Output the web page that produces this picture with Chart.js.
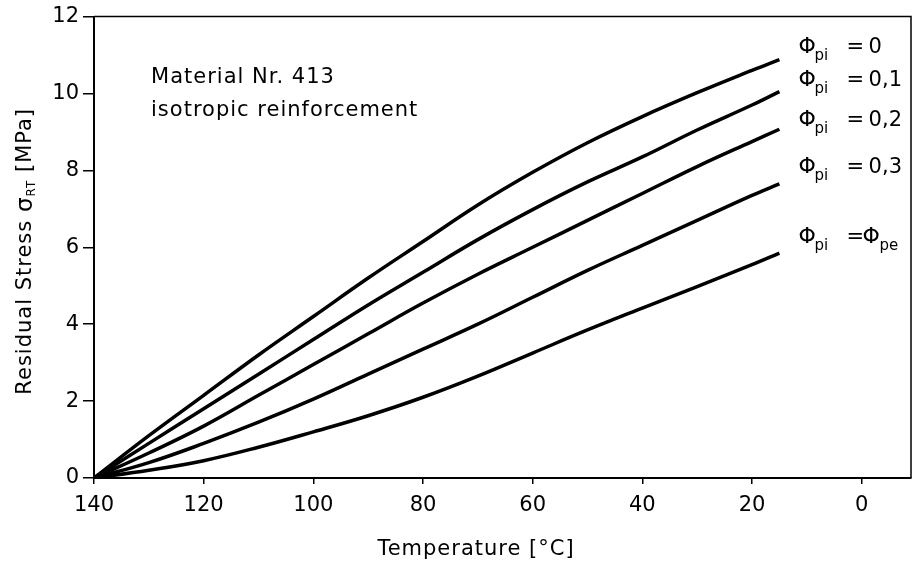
<!DOCTYPE html>
<html>
<head>
<meta charset="utf-8">
<script src="https://cdn.jsdelivr.net/npm/chart.js@4/dist/chart.umd.min.js"></script>
<style>
  html, body { margin: 0; padding: 0; background: #fff; }
  #wrap { width: 915px; height: 569px; }
</style>
</head>
<body>
<div id="wrap"><canvas id="chart" width="915" height="569"></canvas></div>
<script>
(function () {
  'use strict';

  // temperature points (deg C) shared by all curves
  const temps = [140, 130, 120, 110, 100, 90, 80, 70, 60, 50, 40, 30, 20, 15];

  // residual stress [MPa] per curve
  const phi0   = [0, 1.1, 2.15, 3.2, 4.2, 5.2, 6.15, 7.1, 7.95, 8.72, 9.4, 10.02, 10.6, 10.88];
  const phi01  = [0, 0.9, 1.8, 2.7, 3.6, 4.5, 5.35, 6.2, 6.98, 7.7, 8.35, 9.05, 9.7, 10.05];
  const phi02  = [0, 0.65, 1.35, 2.15, 2.95, 3.75, 4.55, 5.3, 6.0, 6.7, 7.4, 8.1, 8.75, 9.07];
  const phi03  = [0, 0.4, 0.9, 1.45, 2.05, 2.7, 3.35, 4.0, 4.7, 5.4, 6.05, 6.7, 7.35, 7.65];
  const phiPe  = [0, 0.2, 0.45, 0.8, 1.2, 1.62, 2.1, 2.65, 3.25, 3.85, 4.42, 4.98, 5.55, 5.85];

  const xTicks = [140, 120, 100, 80, 60, 40, 20, 0];
  const yTicks = [0, 2, 4, 6, 8, 10, 12];

  // curve labels: value shown after "=" and the y level (MPa) of each label
  const curveLabels = ['0', '0,1', '0,2', '0,3', null];
  const labelLevels = [11.2, 10.34, 9.3, 8.08, 6.26];
  const labelTemp = 11.5;

  const noteLines = ['Material Nr. 413', 'isotropic reinforcement'];
  const noteLevels = [10.42, 9.55];
  const noteTemp = 129.6;

  const FONT = '"DejaVu Sans", sans-serif';

  function series(vals) {
    return temps.map(function (t, i) { return { x: t, y: vals[i] }; });
  }

  // draw a run of text pieces, each with its own size and vertical offset
  function drawParts(ctx, parts, x, y) {
    var cx = x;
    parts.forEach(function (p) {
      ctx.font = p.size + 'px ' + FONT;
      if (p.at != null) cx = x + p.at;
      ctx.fillText(p.t, cx, y + (p.dy || 0));
      cx += ctx.measureText(p.t).width;
    });
  }

  function partsWidth(ctx, parts) {
    var w = 0;
    parts.forEach(function (p) {
      ctx.font = p.size + 'px ' + FONT;
      w += ctx.measureText(p.t).width;
    });
    return w;
  }

  const decorPlugin = {
    id: 'decor',
    afterDraw: function (chart) {
      var ctx = chart.ctx;
      var a = chart.chartArea;
      var xs = chart.scales.x, ys = chart.scales.y;
      ctx.save();
      // frame top and right
      ctx.strokeStyle = '#000';
      ctx.lineWidth = 1.5;
      ctx.beginPath();
      ctx.moveTo(a.left, a.top);
      ctx.lineTo(a.right, a.top);
      ctx.lineTo(a.right, a.bottom);
      ctx.stroke();

      ctx.fillStyle = '#000';
      ctx.textBaseline = 'middle';
      ctx.letterSpacing = '1px';

      // note text
      noteLines.forEach(function (s, i) {
        ctx.font = '21px ' + FONT;
        ctx.fillText(s, xs.getPixelForValue(noteTemp), ys.getPixelForValue(noteLevels[i]));
      });

      // curve labels
      ctx.letterSpacing = '0px';
      var lx = xs.getPixelForValue(labelTemp);
      curveLabels.forEach(function (v, i) {
        var ly = ys.getPixelForValue(labelLevels[i]);
        var parts = [
          { t: '\u03A6', size: 22 },
          { t: 'pi', size: 15, dy: 9, at: 16 }
        ];
        if (v !== null) {
          parts.push({ t: '=', size: 21, at: 48 });
          parts.push({ t: v, size: 21, at: 70 });
        } else {
          parts.push({ t: '=', size: 21, at: 48 });
          parts.push({ t: '\u03A6', size: 22, at: 64 });
          parts.push({ t: 'pe', size: 15, dy: 9, at: 81 });
        }
        drawParts(ctx, parts, lx, ly);
      });

      // y axis title, rotated
      ctx.letterSpacing = '1px';
      var yParts = [
        { t: 'Residual Stress ', size: 21 },
        { t: '\u03C3', size: 23 },
        { t: 'RT', size: 12, dy: 6 },
        { t: ' [MPa]', size: 21 }
      ];
      var w = partsWidth(ctx, yParts);
      ctx.translate(26, (a.top + a.bottom) / 2 + 4);
      ctx.rotate(-Math.PI / 2);
      drawParts(ctx, yParts, -w / 2, 0);
      ctx.restore();

      // x axis title
      ctx.save();
      ctx.fillStyle = '#000';
      ctx.textBaseline = 'middle';
      ctx.textAlign = 'center';
      ctx.letterSpacing = '1px';
      ctx.font = '21px ' + FONT;
      ctx.fillText('Temperature [\u00B0C]', 476, 550);
      ctx.restore();
    }
  };

  function lineDs(vals) {
    return {
      data: series(vals),
      borderColor: '#000',
      borderWidth: 3.5,
      pointRadius: 0,
      fill: false,
      tension: 0.4
    };
  }

  new Chart(document.getElementById('chart'), {
    type: 'line',
    data: {
      datasets: [lineDs(phi0), lineDs(phi01), lineDs(phi02), lineDs(phi03), lineDs(phiPe)]
    },
    options: {
      responsive: false,
      animation: false,
      devicePixelRatio: 1,
      layout: { padding: { top: 14, right: 4, left: 0, bottom: 0 } },
      plugins: { legend: { display: false }, tooltip: { enabled: false } },
      scales: {
        x: {
          type: 'linear',
          reverse: true,
          min: -9,
          max: 140,
          afterBuildTicks: function (s) { s.ticks = xTicks.map(function (v) { return { value: v }; }); },
          afterFit: function (s) { s.height = 91; },
          grid: { drawOnChartArea: false, tickLength: 6, color: '#000', lineWidth: 1.5 },
          border: { color: '#000', width: 2 },
          ticks: { color: '#000', font: { family: FONT, size: 21 }, padding: 9, maxRotation: 0, autoSkip: false }
        },
        y: {
          min: 0,
          max: 12,
          afterBuildTicks: function (s) { s.ticks = yTicks.map(function (v) { return { value: v }; }); },
          afterFit: function (s) { s.width = 94; },
          grid: { drawOnChartArea: false, tickLength: 11, color: '#000', lineWidth: 1.5 },
          border: { color: '#000', width: 2 },
          ticks: { color: '#000', font: { family: FONT, size: 21 }, padding: 4 }
        }
      }
    },
    plugins: [decorPlugin]
  });
})();
</script>
</body>
</html>
